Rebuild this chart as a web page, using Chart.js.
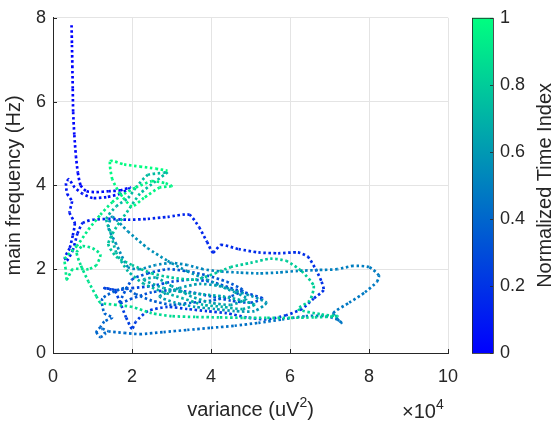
<!DOCTYPE html>
<html>
<head>
<meta charset="utf-8">
<script src="https://cdn.jsdelivr.net/npm/chart.js@4/dist/chart.umd.min.js"></script>
<style>
  html, body { margin: 0; padding: 0; background: #fff; }
  canvas { display: block; }
</style>
</head>
<body>
<canvas id="trajChart" width="553" height="425"></canvas>
<script>
// trajectory of the recording, in time order (variance in uV^2, frequency in Hz)
const variance = [
  4700, 4800, 4900, 5000, 5100, 5400, 5800, 6300, 7000, 8500, 11000, 14000, 17000, 19500,
  17000, 13500, 10000, 7500, 5500, 4000, 3300, 3600, 4800, 4200, 5500, 5000, 4200, 3000, 3500,
  5000, 6200, 7500, 10000, 14000, 19000, 24000, 29000, 34500, 37000, 39000, 40500, 42500, 47000, 52000, 57000, 62000, 64500, 66500, 68000, 68500,
  66000, 63000, 59000, 54000, 49000, 44000, 39000, 34000, 29000, 24000, 21000, 20000, 18500, 17000, 15500, 13000,
  16000, 20000, 25000, 30000, 35000, 40000, 45000, 50000, 53000, 50000, 45000, 40000, 35000, 30000, 25000, 20000, 17000,
  20000, 24000, 29000, 34000, 39000, 44000, 48000, 45000, 40000, 35000, 30000, 25000, 21000, 18000,
  12500, 13000, 15000, 13000, 12000, 11000, 12000, 13200, 12500, 14000, 18000, 22000, 28000, 34000, 40000, 46000, 52000, 58000, 64000, 69000, 72000, 73000,
  71000, 75000, 79000, 82000, 82500, 80000, 76000, 72000, 67000, 62000, 57000, 52000, 47000, 42000, 38000, 34000, 30000, 26000, 22000, 19000,
  16000, 14000, 15000, 19000, 24000, 29000, 34000, 39000, 44000, 49000, 54000, 51000, 46000, 41000, 36000, 31000, 27000,
  32000, 37000, 42000, 46000, 49000, 45000, 40000, 35000, 30000, 26000,
  23000, 28000, 33000, 38000, 43000, 48000, 51000, 48000, 43000, 38000, 33000, 28000, 23000, 19000, 16000, 14500, 13500, 16000, 19000, 21000, 24000, 28000, 29000,
  26000, 22000, 19000, 16000, 14000, 16000, 20000, 25000, 30000, 36000, 41000, 45000, 50000, 55000, 59000, 63000, 66000, 65000, 62000, 68000, 72000, 66000, 60000, 54000, 48000, 42000, 36000, 30000, 25000, 20000, 16000,
  12000, 11000, 9000, 7000, 6000, 7500, 10000, 12000, 11000, 9000, 5000, 3500, 3200, 3000, 6000, 9000, 12000, 15000, 18000, 21000, 25000, 28500, 30000, 27000, 23000, 20000, 17000, 15000, 14500, 18000, 22000, 26000, 29000
];
const mainFreq = [
  7.82, 7.35, 6.85, 6.30, 5.75, 5.20, 4.70, 4.30, 4.00, 3.86, 3.84, 3.86, 3.88, 3.95,
  3.80, 3.72, 3.70, 3.80, 3.95, 4.15, 4.05, 3.80, 3.62, 3.35, 3.10, 2.80, 2.50, 2.28, 2.20,
  2.45, 2.85, 3.10, 3.18, 3.20, 3.18, 3.20, 3.25, 3.30, 3.00, 2.65, 2.40, 2.58, 2.48, 2.40, 2.38, 2.40, 2.30, 2.00, 1.70, 1.50,
  1.30, 1.05, 0.90, 0.80, 0.85, 0.95, 1.00, 1.05, 1.10, 1.00, 0.75, 0.58, 0.85, 1.20, 1.50, 1.55,
  1.50, 1.55, 1.60, 1.70, 1.75, 1.70, 1.55, 1.40, 1.30, 1.20, 1.25, 1.35, 1.45, 1.50, 1.45, 1.30, 1.20,
  1.75, 1.90, 2.00, 1.95, 1.85, 1.70, 1.50, 1.35, 1.25, 1.20, 1.15, 1.25, 1.40, 1.55,
  1.30, 0.95, 0.85, 0.75, 0.62, 0.50, 0.38, 0.45, 0.58, 0.52, 0.48, 0.45, 0.50, 0.55, 0.60, 0.65, 0.72, 0.80, 0.88, 0.88, 0.80, 0.72,
  0.95, 1.20, 1.45, 1.70, 1.85, 2.05, 2.08, 2.00, 1.98, 1.96, 1.92, 1.90, 1.92, 1.95, 2.00, 2.10, 2.15, 2.10, 2.00, 2.05,
  2.60, 3.00, 3.25, 2.90, 2.50, 2.20, 1.95, 1.75, 1.55, 1.40, 1.20, 1.00, 1.00, 1.05, 1.10, 1.20, 1.35,
  1.55, 1.65, 1.60, 1.45, 1.30, 1.15, 1.20, 1.35, 1.60, 1.80,
  1.75, 1.55, 1.45, 1.40, 1.35, 1.25, 1.15, 1.05, 1.10, 1.15, 1.30, 1.45, 1.65, 1.95, 2.40, 2.90, 3.20, 3.50, 3.70, 3.95, 4.25, 4.30, 4.32,
  4.10, 3.80, 3.40, 3.00, 2.60, 2.30, 2.10, 1.90, 1.80, 1.75, 1.90, 2.05, 2.15, 2.25, 2.20, 1.95, 1.60, 1.25, 1.05, 0.92, 0.88, 0.85, 0.84, 0.84, 0.84, 0.85, 0.86, 0.88, 0.95, 1.10, 1.15,
  1.20, 1.35, 1.70, 2.10, 2.40, 2.55, 2.50, 2.35, 2.10, 2.00, 2.00, 1.75, 2.00, 2.25, 2.55, 2.95, 3.30, 3.60, 3.80, 3.95, 4.10, 4.05, 3.98, 3.95, 3.70, 3.50, 3.80, 4.15, 4.58, 4.50, 4.45, 4.40, 4.35
];

const xTicks = [0, 20000, 40000, 60000, 80000, 100000];
const yTicks = [0, 2, 4, 6, 8];
const cbTicks = [0, 0.2, 0.4, 0.6, 0.8, 1];

const FONT = '"Liberation Sans", Arial, Helvetica, sans-serif';
const INK = '#262626';

// winter colormap: blue -> spring green
const winter = (t) => `rgb(0,${Math.round(255 * t)},${Math.round(255 * (1 - 0.5 * t))})`;

const points = variance.map((v, i) => ({ x: v, y: mainFreq[i] }));
const last = points.length - 1;

// text with a raised part, e.g. uV^2 or 10^4
function supText(ctx, parts, x, y, align) {
    const big = `20px ${FONT}`, small = `14px ${FONT}`;
    let total = 0;
    for (const p of parts) {
        ctx.font = p.sup ? small : big;
        total += ctx.measureText(p.t).width;
    }
    let cx = align === 'center' ? x - total / 2 : x;
    ctx.textAlign = 'left';
    for (const p of parts) {
        ctx.font = p.sup ? small : big;
        ctx.fillText(p.t, cx, p.sup ? y - 9 : y);
        cx += ctx.measureText(p.t).width;
    }
}

// colorbar, inward tick marks, x title and the x exponent
const extras = {
    id: 'extras',
    afterDraw(chart) {
        const { ctx, chartArea, scales } = chart;
        ctx.save();

        // inward ticks on the axes
        ctx.strokeStyle = INK;
        ctx.lineWidth = 1;
        ctx.beginPath();
        for (const v of xTicks) {
            const px = Math.round(scales.x.getPixelForValue(v)) + 0.5;
            ctx.moveTo(px, chartArea.bottom);
            ctx.lineTo(px, chartArea.bottom - 4);
        }
        for (const v of yTicks) {
            const py = Math.round(scales.y.getPixelForValue(v)) + 0.5;
            ctx.moveTo(chartArea.left, py);
            ctx.lineTo(chartArea.left + 4, py);
        }
        ctx.stroke();

        ctx.fillStyle = INK;
        ctx.textBaseline = 'alphabetic';
        supText(ctx, [{ t: 'variance (uV' }, { t: '2', sup: true }, { t: ')' }],
            (chartArea.left + chartArea.right) / 2, 416, 'center');
        supText(ctx, [{ t: '\u00d710' }, { t: '4', sup: true }], chartArea.right - 46, 418, 'left');

        // colorbar
        const bx = chartArea.right + 24;
        const bw = 21;
        const top = chartArea.top;
        const bottom = chartArea.bottom;
        const grad = ctx.createLinearGradient(0, bottom, 0, top);
        grad.addColorStop(0, winter(0));
        grad.addColorStop(1, winter(1));
        ctx.fillStyle = grad;
        ctx.fillRect(bx, top, bw, bottom - top);
        ctx.strokeStyle = INK;
        ctx.lineWidth = 0.8;
        ctx.strokeRect(bx + 0.5, top + 0.5, bw, bottom - top);

        ctx.beginPath();
        ctx.font = `18px ${FONT}`;
        ctx.textAlign = 'left';
        ctx.textBaseline = 'middle';
        ctx.fillStyle = INK;
        for (const t of cbTicks) {
            const py = Math.round(bottom - t * (bottom - top)) + 0.5;
            ctx.moveTo(bx + bw, py);
            ctx.lineTo(bx + bw - 3, py);
            ctx.fillText(String(t), bx + bw + 7, py);
        }
        ctx.stroke();

        ctx.translate(545, (top + bottom) / 2);
        ctx.rotate(-Math.PI / 2);
        ctx.textAlign = 'center';
        ctx.font = `20px ${FONT}`;
        ctx.fillText('Normalized Time Index', 0, 0);
        ctx.restore();
    }
};

new Chart(document.getElementById('trajChart'), {
    type: 'line',
    data: {
        datasets: [{
            data: points,
            borderWidth: 2.7,
            borderDash: [2.5, 2.5],
            borderCapStyle: 'butt',
            borderColor: winter(0),
            pointRadius: 0,
            tension: 0.2,
            fill: false,
            segment: {
                borderColor: (c) => winter(c.p0DataIndex / last)
            }
        }]
    },
    options: {
        responsive: false,
        animation: false,
        layout: { padding: { top: 16, right: 105, left: 0, bottom: 0 } },
        plugins: { legend: { display: false }, tooltip: { enabled: false } },
        scales: {
            x: {
                type: 'linear',
                min: 0,
                max: 100000,
                afterFit: (s) => { s.height = 72; },
                afterBuildTicks: (s) => { s.ticks = xTicks.map(v => ({ value: v })); },
                ticks: {
                    color: INK,
                    font: { family: FONT, size: 18 },
                    padding: 13,
                    maxRotation: 0,
                    callback: (v) => String(v / 10000)
                },
                grid: { color: '#e4e4e4', drawTicks: false },
                border: { color: INK }
            },
            y: {
                min: 0,
                max: 8,
                afterFit: (s) => { s.width = 53; },
                afterBuildTicks: (s) => { s.ticks = yTicks.map(v => ({ value: v })); },
                ticks: {
                    color: INK,
                    font: { family: FONT, size: 18 },
                    padding: 7
                },
                grid: { color: '#e4e4e4', drawTicks: false },
                border: { color: INK },
                title: {
                    display: true,
                    text: 'main frequency (Hz)',
                    color: INK,
                    font: { family: FONT, size: 20 },
                    padding: { top: 2, bottom: 0 }
                }
            }
        }
    },
    plugins: [extras]
});
</script>
</body>
</html>
